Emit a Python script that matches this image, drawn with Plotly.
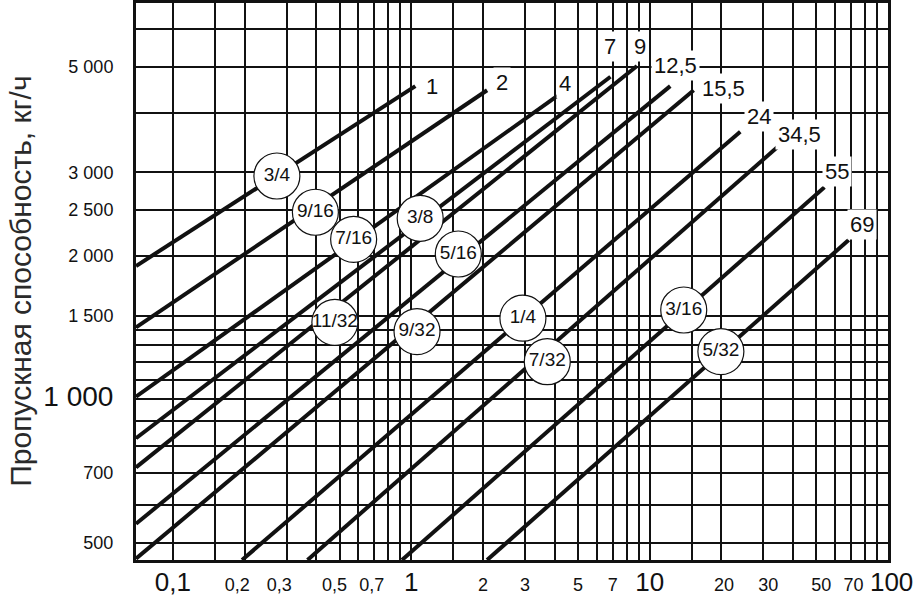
import numpy as np
import plotly.graph_objects as go

# ---------------- data ----------------
line_labels = ["1", "2", "4", "7", "9", "12,5", "15,5", "24", "34,5", "55", "69"]
# start / end points of each characteristic line (pressure drop, capacity)
dp_start = [0.07, 0.07, 0.07, 0.07, 0.07, 0.07, 0.07, 0.195, 0.367, 0.914, 2.08]
q_start = [1906, 1417, 1013, 829, 720, 548, 463, 460, 460, 460, 460]
dp_end = [1.04, 2.08, 4.1, 6.85, 8.85, 12.2, 15.3, 24.0, 34.3, 54.1, 68.4]
q_end = [4550, 4460, 4340, 4760, 5015, 4550, 4460, 3650, 3384, 2789, 2162]

# line number labels
label_dp = [1.225, 2.41, 4.40, 6.80, 9.14, 12.8, 20.5, 28.8, 42.4, 60.9, 77.6]
label_q = [4536, 4641, 4597, 5512, 5512, 5027, 4502, 3925, 3592, 3008, 2335]

# orifice sizes (circles)
orifice = ["3/4", "9/16", "7/16", "3/8", "11/32", "5/16", "9/32", "1/4", "7/32", "3/16", "5/32"]
orifice_dp = [0.273, 0.396, 0.573, 1.09, 0.478, 1.575, 1.057, 2.94, 3.72, 13.9, 19.9]
orifice_q = [2946, 2472, 2169, 2401, 1452, 2020, 1388, 1481, 1200, 1541, 1260]

# axes grid / tick labels
x_grid = [0.1, 0.15, 0.2, 0.3, 0.4, 0.5, 0.6, 0.7, 0.8, 0.9, 1, 1.5, 2, 3, 4, 5, 6, 7, 8, 9,
          10, 15, 20, 30, 40, 50, 60, 70, 80, 90, 100]
x_labels = {0.1: "0,1", 0.2: "0,2", 0.3: "0,3", 0.5: "0,5", 0.7: "0,7", 1: "1", 2: "2", 3: "3",
            5: "5", 7: "7", 10: "10", 20: "20", 30: "30", 50: "50", 70: "70", 100: "100"}
x_big = [0.1, 1, 10, 100]
y_grid = [500, 600, 700, 800, 900, 1000, 1100, 1200, 1300, 1400, 1500, 2000, 2500, 3000,
          4000, 5000, 6000]
y_labels = {500: "500", 700: "700", 1000: "1 000", 1500: "1 500", 2000: "2 000",
            2500: "2 500", 3000: "3 000", 5000: "5 000"}
y_big = [1000]
y_title = "Пропускная способность, кг/ч"

# ---------------- figure ----------------
FONT = "Liberation Sans, Arial, sans-serif"
NB = "\u00a0"

fig = go.Figure()

for i in range(len(line_labels)):
    fig.add_trace(go.Scatter(
        x=[dp_start[i], dp_end[i]], y=[q_start[i], q_end[i]],
        mode="lines", line=dict(color="#111111", width=4),
        hoverinfo="skip", showlegend=False,
    ))

fig.add_trace(go.Scatter(
    x=orifice_dp, y=orifice_q, mode="markers+text", text=orifice,
    textposition="middle center",
    textfont=dict(family=FONT, size=19, color="#111111"),
    marker=dict(symbol="circle", size=46, color="white",
                line=dict(color="#111111", width=1.2)),
    hoverinfo="skip", showlegend=False, cliponaxis=False,
))

for t, xv, yv in zip(line_labels, label_dp, label_q):
    fig.add_annotation(
        x=np.log10(xv), y=np.log10(yv), xref="x", yref="y", text=t,
        showarrow=False, bgcolor="white", borderpad=2,
        font=dict(family=FONT, size=22, color="#111111"),
    )

# small visual nudges of tick label text (padding only)
x_pad_left = {20: 1, 30: 2, 50: 2, 70: 1}
x_pad_right = {0.2: 3, 0.3: 3, 0.5: 2, 0.7: 1}


def fmt_x(v):
    txt = x_labels.get(v)
    if txt is None:
        return ""
    if v in x_big:
        lead = NB if v == 100 else ""
        return f"<span style='font-size:26px'>{lead}{txt}</span>"
    return NB * x_pad_left.get(v, 0) + txt + NB * x_pad_right.get(v, 0)


def fmt_y(v):
    txt = y_labels.get(v)
    if txt is None:
        return ""
    if v in y_big:
        return f"<span style='font-size:28px'>{txt}</span>"
    return txt


x_ticktext = [fmt_x(v) for v in x_grid]
y_ticktext = [fmt_y(v) for v in y_grid]

fig.add_annotation(
    x=-0.154, y=0.5, xref="paper", yref="paper", text=y_title, textangle=-90,
    showarrow=False, xanchor="center", yanchor="middle",
    font=dict(family=FONT, size=30, color="#2a2a2a"),
)

fig.update_xaxes(
    type="log", range=[np.log10(0.07), 2], tickmode="array", tickvals=x_grid,
    ticktext=x_ticktext, showgrid=True, gridcolor="#111111", gridwidth=2,
    showline=True, linecolor="#111111", linewidth=3, mirror=True, ticks="",
    tickfont=dict(family=FONT, size=18, color="#111111"), ticklabelstandoff=6,
    tickangle=0, automargin=False, zeroline=False,
)
fig.update_yaxes(
    type="log", range=[np.log10(460), np.log10(6800)], tickmode="array", tickvals=y_grid,
    ticktext=y_ticktext, showgrid=True, gridcolor="#111111", gridwidth=2,
    showline=True, linecolor="#111111", linewidth=3, mirror=True, ticks="",
    tickfont=dict(family=FONT, size=18, color="#111111"), ticklabelstandoff=16,
    tickangle=0, automargin=False, zeroline=False,
)

fig.update_layout(
    width=917, height=604, margin=dict(l=136, r=29, t=3, b=44),
    paper_bgcolor="white", plot_bgcolor="white", showlegend=False,
)

fig.write_html("out.html", config={"displayModeBar": False},
               post_script="document.body.style.margin='0px';")
